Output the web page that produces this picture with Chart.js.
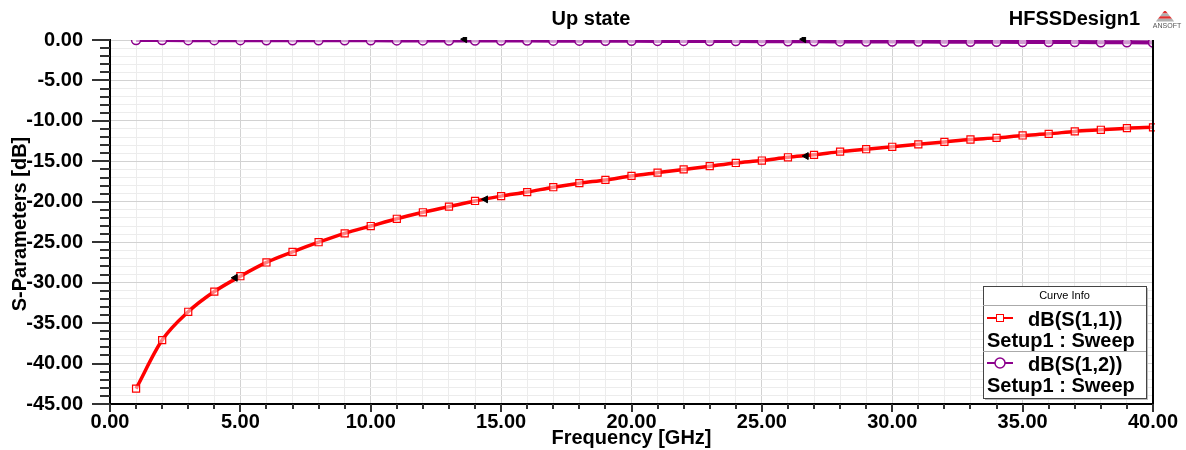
<!DOCTYPE html>
<html>
<head>
<meta charset="utf-8">
<script src="https://cdn.jsdelivr.net/npm/chart.js@4/dist/chart.umd.min.js"></script>
<style>
html,body{margin:0;padding:0;background:#fff;}
#wrap{width:1186px;height:450px;position:relative;}
</style>
</head>
<body>
<div id="wrap"><canvas id="c"></canvas></div>
<script>
// ---- data ----
const freqGHz = [1,2,3,4,5,6,7,8,9,10,11,12,13,14,15,16,17,18,19,20,21,22,23,24,25,26,27,28,29,30,31,32,33,34,35,36,37,38,39,40];
const s11dB = [-43.1,-37.1,-33.6,-31.1,-29.2,-27.5,-26.2,-25.0,-23.9,-23.0,-22.1,-21.3,-20.6,-19.9,-19.3,-18.8,-18.2,-17.7,-17.3,-16.8,-16.4,-16.0,-15.6,-15.2,-14.9,-14.5,-14.2,-13.8,-13.5,-13.2,-12.9,-12.6,-12.3,-12.1,-11.8,-11.6,-11.3,-11.1,-10.9,-10.8];
const s12dB = [-0.01,-0.01,-0.02,-0.02,-0.02,-0.03,-0.03,-0.03,-0.04,-0.04,-0.05,-0.05,-0.06,-0.06,-0.07,-0.07,-0.08,-0.08,-0.09,-0.10,-0.11,-0.11,-0.12,-0.13,-0.14,-0.15,-0.16,-0.17,-0.18,-0.19,-0.20,-0.21,-0.22,-0.23,-0.24,-0.25,-0.26,-0.28,-0.29,-0.30];
const markerFreq = [4.8, 14.4, 26.7, 13.6, 26.6];
const markerDB = [-29.4, -19.7, -14.35, 0.1, 0.1];
const seriesNames = ['dB(S(1,1))', 'dB(S(1,2))'];
const sweepName = 'Setup1 : Sweep';
const chartTitle = 'Up state';
const designName = 'HFSSDesign1';
const xTitle = 'Frequency [GHz]';
const yTitle = 'S-Parameters [dB]';
const xMin = 0, xMax = 40, yMin = -45, yMax = 0;

const FONT = "'Liberation Sans', Arial, sans-serif";
const RED = '#ff0000';
const PURPLE = '#8c008c';

const decor = {
  id: 'decor',
  afterDraw(chart) {
    const ctx = chart.ctx;
    const {left, right, top, bottom} = chart.chartArea;
    const x = chart.scales.x, y = chart.scales.y;
    ctx.save();
    // ticks
    ctx.strokeStyle = '#333';
    ctx.lineWidth = 2;
    for (let v = yMin; v <= yMax; v++) {
      const py = Math.round(y.getPixelForValue(v));
      const len = (v % 5 === 0) ? 18 : 10;
      ctx.beginPath(); ctx.moveTo(left - len, py); ctx.lineTo(left, py); ctx.stroke();
    }
    for (let v = xMin; v <= xMax; v++) {
      const px = Math.round(x.getPixelForValue(v));
      const len = (v % 5 === 0) ? 8 : 5;
      ctx.beginPath(); ctx.moveTo(px, bottom); ctx.lineTo(px, bottom + len); ctx.stroke();
    }
    // right border
    ctx.strokeStyle = '#000'; ctx.lineWidth = 2;
    ctx.beginPath(); ctx.moveTo(right, top); ctx.lineTo(right, bottom); ctx.stroke();

    // titles
    ctx.fillStyle = '#000';
    ctx.font = 'bold 20px ' + FONT;
    ctx.textBaseline = 'middle';
    ctx.textAlign = 'center';
    ctx.fillText(chartTitle, 591, 19);
    ctx.textAlign = 'right';
    ctx.fillText(designName, 1140, 19);
    ctx.textAlign = 'center';
    ctx.fillText(xTitle, (left + right) / 2, 438);
    ctx.save();
    ctx.translate(20, 224);
    ctx.rotate(-Math.PI / 2);
    ctx.fillText(yTitle, 0, 0);
    ctx.restore();

    // ANSOFT logo
    for (let i = 0; i < 4; i++) {
      ctx.fillStyle = (i % 2 === 0) ? '#e03030' : '#b0b0b0';
      ctx.beginPath();
      const yy = 11 + i * 2.6;
      ctx.moveTo(1165 - (yy - 10) * 0.8, yy);
      ctx.lineTo(1165 + (yy - 10) * 0.8, yy);
      ctx.lineTo(1165 + (yy + 2.6 - 10) * 0.8, yy + 2.6);
      ctx.lineTo(1165 - (yy + 2.6 - 10) * 0.8, yy + 2.6);
      ctx.closePath(); ctx.fill();
    }
    ctx.fillStyle = '#555';
    ctx.font = '7px ' + FONT;
    ctx.textAlign = 'center';
    ctx.fillText('ANSOFT', 1167, 26);

    // legend box
    const bx = 983, by = 286, bw = 163, bh = 112;
    ctx.fillStyle = '#bbb';
    ctx.fillRect(bx + 2, by + 2, bw, bh);
    ctx.fillStyle = '#fff';
    ctx.fillRect(bx, by, bw, bh);
    ctx.strokeStyle = '#444'; ctx.lineWidth = 1;
    ctx.strokeRect(bx + 0.5, by + 0.5, bw, bh);
    ctx.strokeStyle = '#aaa';
    ctx.beginPath(); ctx.moveTo(bx, 305.5); ctx.lineTo(bx + bw, 305.5); ctx.stroke();
    ctx.beginPath(); ctx.moveTo(bx, 351.5); ctx.lineTo(bx + bw, 351.5); ctx.stroke();
    ctx.fillStyle = '#000';
    ctx.font = '11px ' + FONT;
    ctx.textAlign = 'center';
    ctx.fillText('Curve Info', bx + bw / 2, 296);
    // row 1
    ctx.strokeStyle = RED; ctx.lineWidth = 2;
    ctx.beginPath(); ctx.moveTo(987, 318); ctx.lineTo(1013, 318); ctx.stroke();
    ctx.lineWidth = 1; ctx.fillStyle = '#fff';
    ctx.fillRect(996.5, 314.5, 7, 7); ctx.strokeRect(996.5, 314.5, 7, 7);
    ctx.fillStyle = '#000';
    ctx.font = 'bold 20px ' + FONT;
    ctx.textAlign = 'left';
    ctx.fillText(seriesNames[0], 1028, 320);
    ctx.fillText(sweepName, 987, 341);
    // row 2
    ctx.strokeStyle = PURPLE; ctx.lineWidth = 2;
    ctx.beginPath(); ctx.moveTo(987, 363); ctx.lineTo(1013, 363); ctx.stroke();
    ctx.lineWidth = 1.5; ctx.fillStyle = '#fff';
    ctx.beginPath(); ctx.arc(1000, 363, 5, 0, Math.PI * 2); ctx.fill(); ctx.stroke();
    ctx.fillStyle = '#000';
    ctx.fillText(seriesNames[1], 1028, 365);
    ctx.fillText(sweepName, 987, 386);
    ctx.restore();
  }
};

const gridColor = (ctx) => (ctx.tick && ctx.tick.value % 5 === 0) ? '#d2d2d2' : '#ececec';

new Chart(document.getElementById('c'), {
  type: 'line',
  data: {
    datasets: [
      {
        label: 'markers',
        type: 'scatter',
        data: markerFreq.map((f, i) => ({x: f, y: markerDB[i]})),
        pointStyle: 'triangle',
        rotation: 270,
        radius: 4,
        backgroundColor: '#000',
        borderColor: '#000',
        borderWidth: 1,
        clip: 3,
        order: 0
      },
      {
        label: seriesNames[1],
        data: freqGHz.map((f, i) => ({x: f, y: s12dB[i]})),
        borderColor: PURPLE,
        borderWidth: 4,
        pointStyle: 'circle',
        pointRadius: 4.5,
        pointBorderWidth: 1.5,
        pointBorderColor: PURPLE,
        pointBackgroundColor: 'rgba(255,255,255,0.6)',
        clip: 0,
        order: 2
      },
      {
        label: seriesNames[0],
        data: freqGHz.map((f, i) => ({x: f, y: s11dB[i]})),
        borderColor: RED,
        borderWidth: 3.5,
        cubicInterpolationMode: 'monotone',
        pointStyle: 'rect',
        pointRadius: 5,
        pointBorderWidth: 1.2,
        pointBorderColor: RED,
        pointBackgroundColor: 'rgba(255,255,255,0.5)',
        clip: 2,
        order: 1
      }
    ]
  },
  options: {
    responsive: true,
    maintainAspectRatio: false,
    animation: false,
    events: [],
    layout: {padding: {left: 0, top: 40, right: 33, bottom: 0}},
    plugins: {legend: {display: false}, title: {display: false}, tooltip: {enabled: false}},
    scales: {
      x: {
        type: 'linear', min: xMin, max: xMax,
        afterFit: (s) => { s.height = 46; },
        grid: {color: gridColor, drawTicks: false, lineWidth: 1},
        border: {color: '#000', width: 2},
        ticks: {
          stepSize: 1, autoSkip: false, maxRotation: 0, padding: 6,
          color: '#000', font: {family: FONT, size: 20, weight: 'bold'},
          callback: (v) => (v % 5 === 0) ? v.toFixed(2) : ''
        }
      },
      y: {
        type: 'linear', min: yMin, max: yMax,
        afterFit: (s) => { s.width = 110; },
        grid: {color: gridColor, drawTicks: false, lineWidth: 1},
        border: {color: '#000', width: 2},
        ticks: {
          stepSize: 1, autoSkip: false, padding: 27,
          color: '#000', font: {family: FONT, size: 20, weight: 'bold'},
          callback: (v) => (v % 5 === 0) ? v.toFixed(2) : ''
        }
      }
    }
  },
  plugins: [decor]
});
</script>
</body>
</html>
